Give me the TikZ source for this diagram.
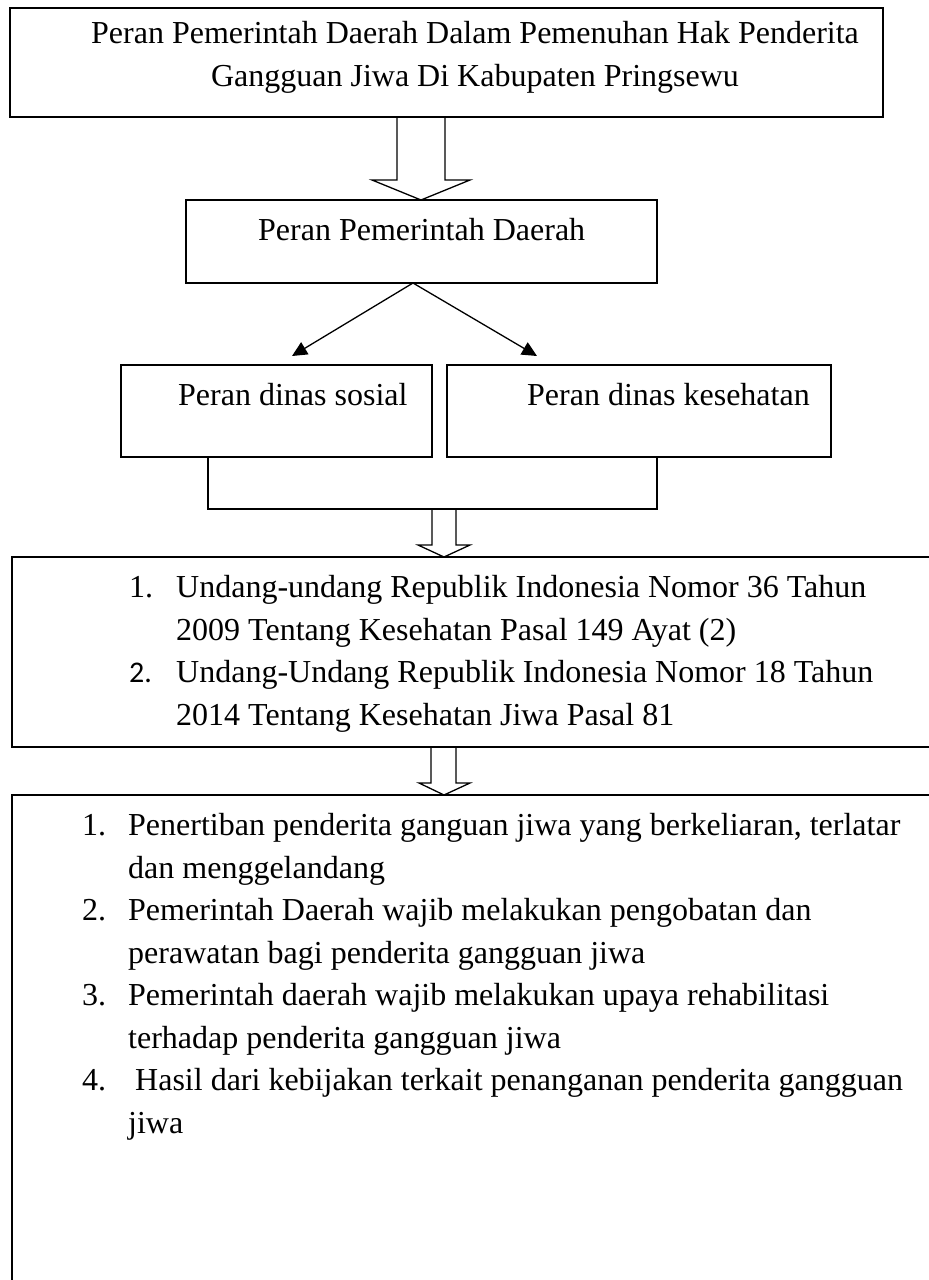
\documentclass[tikz,border=0pt]{standalone}
\usepackage{fontspec}
\setmainfont{Liberation Serif}
\newfontfamily\calfont{Carlito}
\usetikzlibrary{arrows.meta,calc}
\begin{document}
\begin{tikzpicture}[x=1pt,y=-1pt,
  boxnode/.style={draw=black, line width=1.3pt, rectangle, inner sep=0pt, outer sep=0pt, anchor=north west},
  txt/.style={inner sep=0pt, anchor=base west, font=\fontsize{32}{43}\selectfont},
  txtc/.style={inner sep=0pt, anchor=base, font=\fontsize{32}{43}\selectfont},
  blk/.style={draw=black, line width=1.3pt, line join=miter},
  con/.style={draw=black, line width=1.3pt, -{Triangle[length=15pt,width=14pt]}}]
\useasboundingbox (0,0) rectangle (929,1280);
\clip (0,0) rectangle (929,1280);
% boxes
\node[boxnode, minimum width=873pt, minimum height=109pt] (top) at (10,8) {};
\node[boxnode, minimum width=471pt, minimum height=83pt] (pemda) at (186,200) {};
\node[boxnode, minimum width=311pt, minimum height=92pt] (sosial) at (121,365) {};
\node[boxnode, minimum width=384pt, minimum height=92pt] (kes) at (447,365) {};
\node[boxnode, minimum width=940pt, minimum height=190pt] (uu) at (12,557) {};
\node[boxnode, minimum width=940pt, minimum height=540pt] (hasil) at (12,795) {};
% texts
\node[txtc] (t1a) at (475,43) {Peran Pemerintah Daerah Dalam Pemenuhan Hak Penderita};
\node[txtc] (t1b) at (475,86) {Gangguan Jiwa Di Kabupaten Pringsewu};
\node[txt] (t2) at (258,240) {Peran Pemerintah Daerah};
\node[txt] (t3) at (178,405) {Peran dinas sosial};
\node[txt] (t4) at (527,405) {Peran dinas kesehatan};
\node[txt] (n31) at (129,597) {1.};
\node[txt] (u1a) at (176,597) {Undang-undang Republik Indonesia Nomor 36 Tahun};
\node[txt] (u1b) at (176,640) {2009 Tentang Kesehatan Pasal 149 Ayat (2)};
\node[txt, font=\calfont\fontsize{30}{43}\selectfont] (n32) at (129,682) {2.};
\node[txt] (u2a) at (176,682) {Undang-Undang Republik Indonesia Nomor 18 Tahun};
\node[txt] (u2b) at (176,725) {2014 Tentang Kesehatan Jiwa Pasal 81};
\node[txt] (n41) at (82,835) {1.};
\node[txt] (h1a) at (128,835) {Penertiban penderita ganguan jiwa yang berkeliaran, terlatar};
\node[txt] (h1b) at (128,878) {dan menggelandang};
\node[txt] (n42) at (82,920) {2.};
\node[txt] (h2a) at (128,920) {Pemerintah Daerah wajib melakukan pengobatan dan};
\node[txt] (h2b) at (128,963) {perawatan bagi penderita gangguan jiwa};
\node[txt] (n43) at (82,1005) {3.};
\node[txt] (h3a) at (128,1005) {Pemerintah daerah wajib melakukan upaya rehabilitasi};
\node[txt] (h3b) at (128,1048) {terhadap penderita gangguan jiwa};
\node[txt] (n44) at (82,1090) {4.};
\node[txt] (h4a) at (135,1090) {Hasil dari kebijakan terkait penanganan penderita gangguan};
\node[txt] (h4b) at (128,1133) {jiwa};
% block arrow top -> pemda
\draw[blk] let \p1=(top.south), \p2=(pemda.north) in
  (397,\y1) -- (397,\y2+20pt) -- (372,\y2+20pt) -- (421,\y2) -- (470,\y2+20pt) -- (445,\y2+20pt) -- (445,\y1);
% diagonal arrows
\coordinate (dsrc) at (413,283);
\coordinate (tipL) at (292,356);
\coordinate (tipR) at (537,356);
\draw[con] (dsrc) -- (tipL);
\draw[con] (dsrc) -- (tipR);
% bracket
\coordinate (bl) at (208,509);
\coordinate (br) at (657,509);
\draw[blk] (sosial.south -| bl) -- (bl) -- (br) -- (kes.south -| br);
% block arrow bracket -> uu
\draw[blk] let \p1=(bl), \p2=(uu.north) in
  (432,\y1) -- (432,\y2+12pt) -- (418,\y2+12pt) -- (444,\y2) -- (470,\y2+12pt) -- (456,\y2+12pt) -- (456,\y1);
% block arrow uu -> hasil
\draw[blk] let \p1=(uu.south), \p2=(hasil.north) in
  (431,\y1) -- (431,\y2+12pt) -- (419,\y2+12pt) -- (444,\y2) -- (470,\y2+12pt) -- (456,\y2+12pt) -- (456,\y1);
\end{tikzpicture}
\end{document}
